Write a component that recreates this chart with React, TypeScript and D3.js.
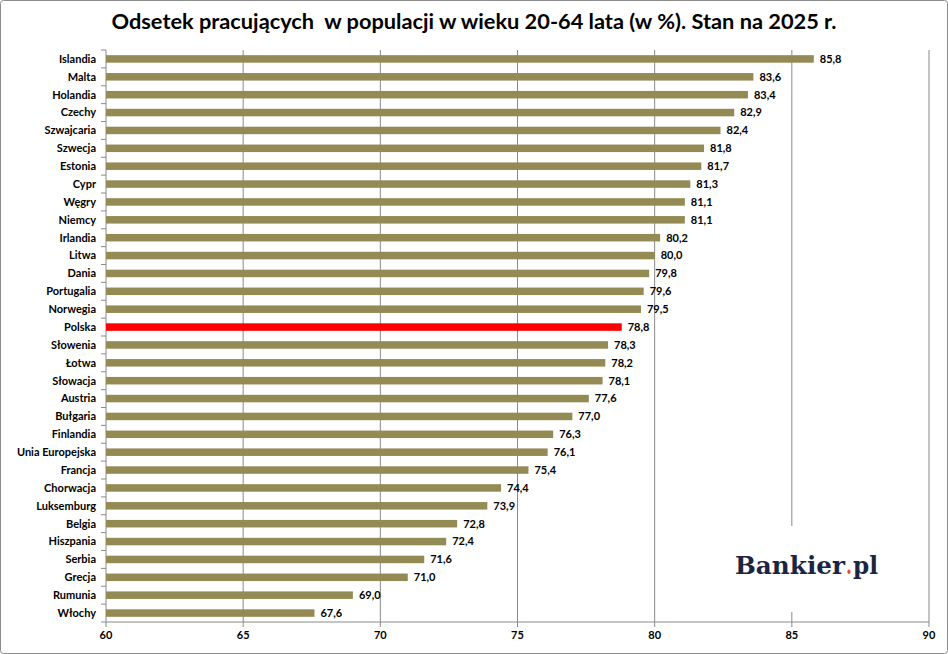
import React from 'react';
import * as d3 from 'd3';

const countries = [
  'Islandia', 'Malta', 'Holandia', 'Czechy', 'Szwajcaria', 'Szwecja', 'Estonia', 'Cypr',
  'Węgry', 'Niemcy', 'Irlandia', 'Litwa', 'Dania', 'Portugalia', 'Norwegia', 'Polska',
  'Słowenia', 'Łotwa', 'Słowacja', 'Austria', 'Bułgaria', 'Finlandia', 'Unia Europejska',
  'Francja', 'Chorwacja', 'Luksemburg', 'Belgia', 'Hiszpania', 'Serbia', 'Grecja', 'Rumunia', 'Włochy',
];
const values = [
  85.8, 83.6, 83.4, 82.9, 82.4, 81.8, 81.7, 81.3, 81.1, 81.1, 80.2, 80.0, 79.8, 79.6, 79.5, 78.8,
  78.3, 78.2, 78.1, 77.6, 77.0, 76.3, 76.1, 75.4, 74.4, 73.9, 72.8, 72.4, 71.6, 71.0, 69.0, 67.6,
];
const xTicks = [60, 65, 70, 75, 80, 85, 90];
const highlight = 'Polska';

const title = 'Odsetek pracujących\u00a0 w populacji w wieku 20-64 lata (w %). Stan na 2025 r.';

export default function App() {
  const width = 948;
  const height = 654;
  const margin = { top: 50, right: 19, bottom: 32, left: 106 };
  const font = 'Lato, "Open Sans", sans-serif';
  const serif = '"DejaVu Serif", "Liberation Serif", serif';

  const x = d3.scaleLinear().domain([60, 90]).range([margin.left, width - margin.right]);
  const y = d3.scaleBand().domain(countries).range([margin.top, height - margin.bottom]).paddingInner(0.58).paddingOuter(0.29);
  const step = y.step();
  const fmt = (v: number) => v.toFixed(1).replace('.', ',');
  const axisY = height - margin.bottom;

  return (
    <>
      <style>{`body{margin:0}`}</style>
      <svg width={width} height={height} style={{ display: 'block', fontFamily: font }}>
        <rect x={0.5} y={0.5} width={width - 1} height={height - 1} rx={3} fill="#fff" stroke="#8c8c8c" />
        <text x={474} y={29} textAnchor="middle" fontSize={21.5} fontWeight={700} fill="#000" textLength={725} lengthAdjust="spacingAndGlyphs">{title}</text>

        {/* gridlines */}
        {xTicks.slice(1).map(t => (
          <line key={t} x1={x(t)} x2={x(t)} y1={margin.top} y2={axisY} stroke="#8a8a8a" strokeWidth={1} />
        ))}

        {/* axes */}
        <line x1={margin.left} x2={margin.left} y1={margin.top} y2={axisY} stroke="#8a8a8a" />
        <line x1={margin.left} x2={x(90)} y1={axisY} y2={axisY} stroke="#8a8a8a" />
        {countries.map((c, i) => (
          <line key={c} x1={margin.left - 5} x2={margin.left} y1={margin.top + i * step} y2={margin.top + i * step} stroke="#8a8a8a" />
        ))}
        <line x1={margin.left - 5} x2={margin.left} y1={axisY} y2={axisY} stroke="#8a8a8a" />
        {xTicks.map(t => (
          <g key={t}>
            <line x1={x(t)} x2={x(t)} y1={axisY} y2={axisY + 5} stroke="#8a8a8a" />
            <text x={x(t)} y={axisY + 17} textAnchor="middle" fontSize={11} fontWeight={700} fill="#000">{t}</text>
          </g>
        ))}

        {/* bars */}
        {countries.map((c, i) => (
          <g key={c}>
            <rect
              x={x(60)}
              y={y(c)}
              width={x(values[i]) - x(60)}
              height={y.bandwidth()}
              fill={c === highlight ? '#ff0000' : '#948a54'}
            />
            <text x={margin.left - 10} y={(y(c) ?? 0) + y.bandwidth() / 2} dy="0.35em" textAnchor="end" fontSize={11} fontWeight={700} fill="#000">{c}</text>
            <text x={x(values[i]) + 6} y={(y(c) ?? 0) + y.bandwidth() / 2} dy="0.35em" fontSize={11} fontWeight={700} fill="#000">{fmt(values[i])}</text>
          </g>
        ))}

        {/* logo */}
        <rect x={712} y={526} width={200} height={86} fill="#fff" />
        <g fontFamily={serif} fontWeight={700} fontSize={25}>
          <text x={735} y={574} fill="#1b2542" textLength={110} lengthAdjust="spacingAndGlyphs">Bankier</text>
          <text x={846} y={574} fill="#e4501f" textLength={6} lengthAdjust="spacingAndGlyphs">.</text>
          <text x={853} y={574} fill="#1b2542" textLength={25} lengthAdjust="spacingAndGlyphs">pl</text>
        </g>
      </svg>
    </>
  );
}
